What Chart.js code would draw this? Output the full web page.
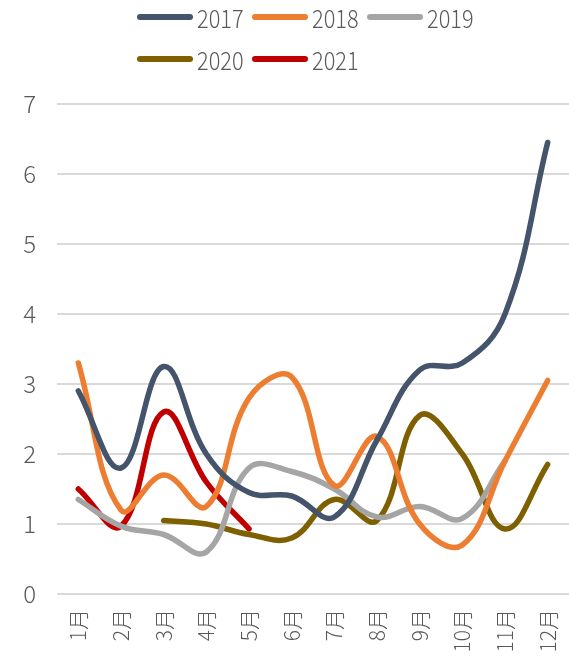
<!DOCTYPE html>
<html>
<head>
<meta charset="utf-8">
<script src="https://cdn.jsdelivr.net/npm/chart.js@4/dist/chart.umd.min.js"></script>
<style>
  html, body { margin: 0; padding: 0; background: #fff; }
  #wrap { width: 569px; height: 657px; }
</style>
</head>
<body>
<div id="wrap"><canvas id="chart" width="569" height="657"></canvas></div>
<script>
var months = ["1月", "2月", "3月", "4月", "5月", "6月", "7月", "8月", "9月", "10月", "11月", "12月"];
var years = ["2017", "2018", "2019", "2020", "2021"];
var s2017 = [2.9, 1.8, 3.25, 2.0, 1.45, 1.4, 1.1, 2.2, 3.2, 3.3, 4.0, 6.45];
var s2018 = [3.3, 1.2, 1.7, 1.25, 2.8, 3.1, 1.55, 2.25, 1.0, 0.7, 1.9, 3.05];
var s2019 = [1.35, 0.97, 0.85, 0.6, 1.8, 1.75, 1.5, 1.1, 1.25, 1.08, 1.9, null];
var s2020 = [null, null, 1.05, 1.0, 0.85, 0.8, 1.35, 1.05, 2.55, 2.0, 0.93, 1.85];
var s2021 = [1.5, 0.97, 2.6, 1.6, 0.93, null, null, null, null, null, null, null];
var yTicks = [0, 1, 2, 3, 4, 5, 6, 7];

var colors = ["#44546A", "#ED7D31", "#A5A5A5", "#7F6000", "#C00000"];
var series = [s2017, s2018, s2019, s2020, s2021];
var textColor = "#595959";
var fontFamily = "'Noto Sans CJK SC', 'Noto Sans', sans-serif";

var datasets = [];
for (var i = 0; i < years.length; i++) {
    datasets.push({
        label: years[i],
        data: series[i],
        borderColor: colors[i],
        backgroundColor: colors[i],
        borderWidth: 5.5,
        borderCapStyle: "round",
        borderJoinStyle: "round",
        pointRadius: 0,
        tension: 0.4,
        fill: false
    });
}

// legend drawn in two rows like the original
var legendRows = {
    id: "legendRows",
    afterDraw: function (chart) {
        var ctx = chart.ctx;
        ctx.save();
        ctx.font = "300 25px " + fontFamily;
        ctx.textBaseline = "middle";
        ctx.textAlign = "left";
        for (var i = 0; i < chart.data.datasets.length; i++) {
            var ds = chart.data.datasets[i];
            var row = Math.floor(i / 3);
            var col = i % 3;
            var x = 140 + col * 115;
            var y = 17 + row * 42;
            ctx.strokeStyle = ds.borderColor;
            ctx.lineWidth = 6;
            ctx.lineCap = "round";
            ctx.beginPath();
            ctx.moveTo(x, y);
            ctx.lineTo(x + 50, y);
            ctx.stroke();
            // narrow the text a little, the original face is condensed
            ctx.save();
            ctx.translate(x + 57, y + 1);
            ctx.scale(0.87, 1);
            ctx.fillStyle = textColor;
            ctx.fillText(ds.label, 0, 0);
            ctx.restore();
        }
        ctx.restore();
    }
};

var ctx = document.getElementById("chart").getContext("2d");
var myChart = new Chart(ctx, {
    type: "line",
    data: {
        labels: months,
        datasets: datasets
    },
    options: {
        responsive: false,
        animation: false,
        layout: {
            padding: { top: 104, right: 0, bottom: 0, left: 0 }
        },
        plugins: {
            legend: { display: false },
            tooltip: { enabled: false }
        },
        scales: {
            x: {
                offset: true,
                afterFit: function (scale) {
                    scale.height = 63;
                    scale.paddingLeft = 0;
                    scale.paddingRight = 0;
                },
                grid: { display: false, drawTicks: false },
                border: { display: false },
                ticks: {
                    color: textColor,
                    font: { size: 21, weight: "300", family: fontFamily },
                    minRotation: 90,
                    maxRotation: 90,
                    padding: 15,
                    autoSkip: false
                }
            },
            y: {
                min: 0,
                max: 7,
                afterFit: function (scale) { scale.width = 57; },
                afterBuildTicks: function (scale) {
                    scale.ticks = yTicks.map(function (v) { return { value: v }; });
                },
                grid: { color: "#D9D9D9", lineWidth: 2, drawTicks: false },
                border: { display: false },
                ticks: {
                    color: textColor,
                    font: { size: 24, weight: "300", family: fontFamily },
                    padding: 21
                }
            }
        }
    },
    plugins: [legendRows]
});
</script>
</body>
</html>
